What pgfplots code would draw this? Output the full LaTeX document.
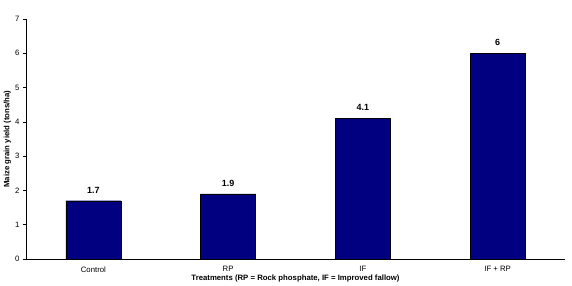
\documentclass[border=0pt]{standalone}
\usepackage{pgfplots}
\pgfplotsset{compat=1.18}
\usepackage{fontspec}
\setmainfont{Liberation Sans}
\definecolor{barnavy}{RGB}{0,0,128}
\begin{document}
\begin{tikzpicture}
\useasboundingbox (-26bp,-27bp) rectangle (546bp,259bp);
\begin{axis}[name=ax, at={(0,0)}, anchor=south west,
  scale only axis, width=539bp, height=240bp,
  xmin=-0.5, xmax=3.5, ymin=0, ymax=7,
  axis lines=left, axis line style={-, black, line width=0.8pt},
  xtick={0,1,2,3}, xticklabels={Control, RP, IF, IF + RP},
  major x tick style={draw=none},
  extra x ticks={-0.5,0.5,1.5,2.5,3.5}, extra x tick labels={},
  extra x tick style={major tick length=3bp, tick style={draw=black, line width=0.6pt}},
  ytick={0,1,...,7},
  tick align=outside, major tick length=3bp,
  tick style={black, line width=0.6pt},
  /pgf/number format/assume math mode=true,
  tick label style={font=\fontsize{7.8}{8}\selectfont},
  xticklabel style={yshift=-1bp},
  ylabel={\textbf{Maize grain yield (tons/ha)}},
  xlabel={\textbf{Treatments (RP = Rock phosphate, IF = Improved fallow)}},
  label style={font=\fontsize{7.8}{8}\selectfont},
  ylabel style={at={(axis description cs:-0.0345,0.5)}, anchor=center},
  xlabel style={at={(axis description cs:0.5,-0.05)}, anchor=north},
  nodes near coords,
  nodes near coords style={font=\bfseries\fontsize{9}{10}\selectfont, yshift=4bp},
  point meta=explicit symbolic,
]
\addplot[ybar, bar width=55bp, fill=barnavy, draw=black, line width=0.4pt]
  coordinates {(0,1.7)[1.7] (1,1.9)[1.9] (2,4.1)[4.1] (3,6)[6]};
\end{axis}
\end{tikzpicture}
\end{document}
